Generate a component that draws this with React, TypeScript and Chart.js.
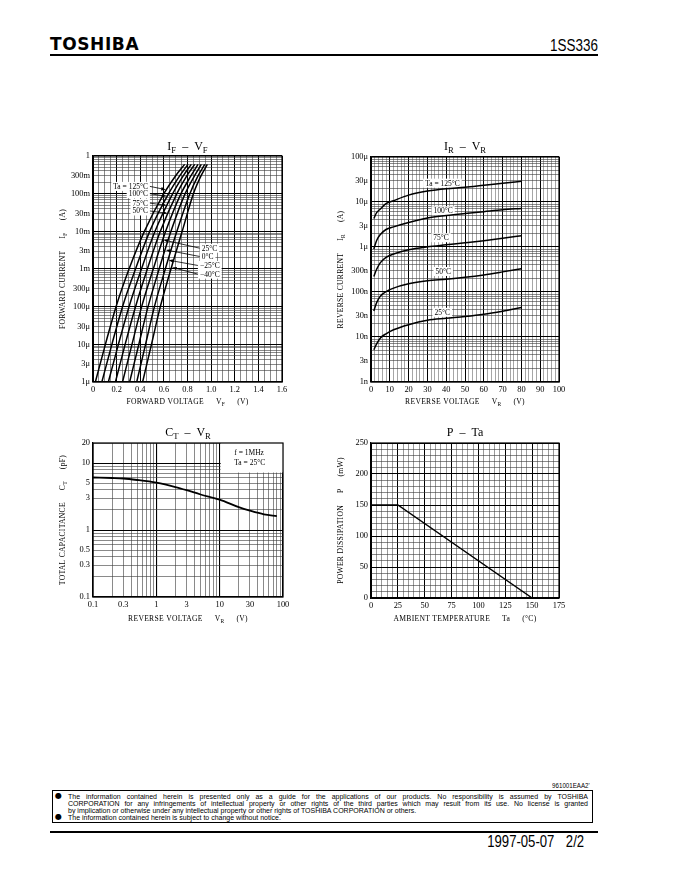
import React, { useEffect, useRef } from "react";
import { Chart, registerables } from "chart.js";

Chart.register(...registerables);

const SERIF = '"Liberation Serif", "DejaVu Serif", serif';
const SANS = '"Liberation Sans", "DejaVu Sans", sans-serif';

// ---------------- IF - VF ----------------
const ifCurrents = [1e-6, 1e-5, 1e-4, 1e-3, 1e-2, 1e-1, 3e-1, 6e-1];
const vfTa125 = [0.02, 0.105, 0.195, 0.305, 0.435, 0.6, 0.7, 0.776];
const vfTa100 = [0.075, 0.16, 0.25, 0.36, 0.48, 0.64, 0.735, 0.804];
const vfTa75 = [0.13, 0.215, 0.305, 0.41, 0.525, 0.675, 0.765, 0.832];
const vfTa50 = [0.19, 0.272, 0.36, 0.46, 0.57, 0.71, 0.795, 0.861];
const vfTa25 = [0.25, 0.33, 0.412, 0.51, 0.615, 0.745, 0.83, 0.889];
const vfTa0 = [0.31, 0.388, 0.466, 0.56, 0.66, 0.78, 0.86, 0.917];
const vfTaM25 = [0.37, 0.445, 0.52, 0.612, 0.71, 0.82, 0.89, 0.946];
const vfTaM40 = [0.42, 0.495, 0.57, 0.66, 0.755, 0.85, 0.915, 0.968];
const ifSeries = [vfTa125, vfTa100, vfTa75, vfTa50, vfTa25, vfTa0, vfTaM25, vfTaM40];
const ifLabels = ["Ta = 125°C", "100°C", "75°C", "50°C", "25°C", "0°C", "\u221225°C", "\u221240°C"];
const ifLabelV = [0.465, 0.465, 0.465, 0.465, 0.92, 0.92, 0.905, 0.905];
const ifLabelI = [0.156, 0.1, 0.056, 0.0347, 3.57e-3, 2.15e-3, 1.24e-3, 7.3e-4];
const ifArrowI = [0.128, 0.085, 0.049, 0.03, 5.9e-3, 3.2e-3, 1.71e-3, 1.1e-3];
const ifXTicks = [0, 0.2, 0.4, 0.6, 0.8, 1.0, 1.2, 1.4, 1.6];
const ifXLabels = ["0", "0.2", "0.4", "0.6", "0.8", "1.0", "1.2", "1.4", "1.6"];
const ifYTicks = [1e-6, 3e-6, 1e-5, 3e-5, 1e-4, 3e-4, 1e-3, 3e-3, 1e-2, 3e-2, 1e-1, 3e-1, 1];
const ifYLabels = ["1\u03bc", "3\u03bc", "10\u03bc", "30\u03bc", "100\u03bc", "300\u03bc", "1m", "3m", "10m", "30m", "100m", "300m", "1"];

// ---------------- IR - VR ----------------
const irV = [1.5, 3, 5, 8, 12, 20, 30, 40, 50, 60, 70, 80];
const irTa125 = [4.3e-6, 5.8e-6, 7e-6, 9.2e-6, 1.07e-5, 1.42e-5, 1.75e-5, 1.98e-5, 2.12e-5, 2.35e-5, 2.6e-5, 2.9e-5];
const irTa100 = [0.9e-6, 1.4e-6, 1.9e-6, 2.45e-6, 2.8e-6, 3.5e-6, 4.4e-6, 5e-6, 5.55e-6, 6.1e-6, 6.7e-6, 7.2e-6];
const irTa75 = [2.2e-7, 3.2e-7, 4.5e-7, 5.9e-7, 7e-7, 8.7e-7, 1.01e-6, 1.12e-6, 1.24e-6, 1.38e-6, 1.56e-6, 1.78e-6];
const irTa50 = [3.8e-8, 5.8e-8, 8.1e-8, 1.02e-7, 1.22e-7, 1.52e-7, 1.77e-7, 1.92e-7, 2.12e-7, 2.4e-7, 2.8e-7, 3.3e-7];
const irTa25 = [5.2e-9, 7e-9, 9.5e-9, 1.18e-8, 1.45e-8, 1.88e-8, 2.35e-8, 2.6e-8, 2.85e-8, 3.2e-8, 3.75e-8, 4.5e-8];
const irSeries = [irTa125, irTa100, irTa75, irTa50, irTa25];
const irLabels = ["Ta = 125°C", "100°C", "75°C", "50°C", "25°C"];
const irLabelV = [38, 38.4, 37.3, 38.4, 37.9];
const irLabelI = [2.62e-5, 6.4e-6, 1.61e-6, 2.86e-7, 3.54e-8];
const irXTicks = [0, 10, 20, 30, 40, 50, 60, 70, 80, 90, 100];
const irXLabels = ["0", "10", "20", "30", "40", "50", "60", "70", "80", "90", "100"];
const irYTicks = [1e-9, 3e-9, 1e-8, 3e-8, 1e-7, 3e-7, 1e-6, 3e-6, 1e-5, 3e-5, 1e-4];
const irYLabels = ["1n", "3n", "10n", "30n", "100n", "300n", "1\u03bc", "3\u03bc", "10\u03bc", "30\u03bc", "100\u03bc"];

// ---------------- CT - VR ----------------
const ctV = [0.1, 0.2, 0.3, 0.5, 1, 2, 3, 5, 10, 20, 30, 50, 80];
const ctC = [6.1, 6.0, 5.9, 5.6, 5.1, 4.4, 3.95, 3.4, 2.85, 2.2, 1.95, 1.72, 1.62];
const ctNote = ["f = 1MHz", "Ta = 25°C"];
const ctNoteV = 17;
const ctNoteC = [14.3, 10.1];
const ctBoxV = [10, 100];
const ctBoxC = [7, 20];
const ctXTicks = [0.1, 0.3, 1, 3, 10, 30, 100];
const ctXLabels = ["0.1", "0.3", "1", "3", "10", "30", "100"];
const ctYTicks = [0.1, 0.3, 0.5, 1, 3, 5, 10, 20];
const ctYLabels = ["0.1", "0.3", "0.5", "1", "3", "5", "10", "20"];

// ---------------- P - Ta ----------------
const paTa = [0, 25, 150];
const paP = [150, 150, 0];
const paXTicks = [0, 25, 50, 75, 100, 125, 150, 175];
const paXLabels = ["0", "25", "50", "75", "100", "125", "150", "175"];
const paYTicks = [0, 50, 100, 150, 200, 250];
const paYLabels = ["0", "50", "100", "150", "200", "250"];

// ---------------- helpers ----------------
type Seg = [string, boolean?];
interface AxisSpec {
  type: "linear" | "logarithmic";
  min: number;
  max: number;
  grid: number[];
  labelOf: (v: number) => string;
  styleOf: (v: number) => [string, number];
}
interface Spec {
  left: number; top: number; width: number; height: number;
  yW: number; xH: number; padTop: number; padRight: number;
  title: Seg[]; titleOff: number;
  xTitle: Seg[]; xTitleOff: number;
  yTitle: Seg[]; yTitleOff: number;
  x: AxisSpec; y: AxisSpec;
  datasets: any[];
  extra?: (chart: any) => void;
}

function logGrid(min: number, max: number): number[] {
  const out: number[] = [];
  for (let e = Math.floor(Math.log10(min)); e <= Math.ceil(Math.log10(max)); e++) {
    for (let m = 1; m <= 9; m++) {
      const v = +(m * Math.pow(10, e)).toPrecision(6);
      if (v >= min * 0.999 && v <= max * 1.001) out.push(v);
    }
  }
  return out;
}
function linGrid(min: number, max: number, step: number): number[] {
  const out: number[] = [];
  const n = Math.round((max - min) / step);
  for (let k = 0; k <= n; k++) out.push(+(min + k * step).toFixed(6));
  return out;
}
function labeler(vals: number[], labels: string[]) {
  return (v: number) => {
    const i = vals.findIndex((t) => Math.abs(t - v) <= Math.abs(t) * 1e-6 + 1e-12);
    return i >= 0 ? labels[i] : "";
  };
}
function isMult(v: number, step: number) {
  return Math.abs(v / step - Math.round(v / step)) < 1e-6;
}
function logStyle(v: number): [string, number] {
  const l = Math.log10(v);
  return Math.abs(l - Math.round(l)) < 1e-6 ? ["#000", 1.1] : ["#3a3a3a", 0.6];
}

function drawSegs(ctx: CanvasRenderingContext2D, segs: Seg[], cx: number, cy: number, size: number, ls: number) {
  const c: any = ctx;
  c.letterSpacing = ls + "px";
  ctx.textBaseline = "middle";
  ctx.textAlign = "left";
  const fonts = segs.map(([, sub]) => `${sub ? size * 0.72 : size}px ${SERIF}`);
  const widths = segs.map(([t], i) => {
    ctx.font = fonts[i];
    return ctx.measureText(t).width;
  });
  const total = widths.reduce((a, b) => a + b, 0);
  let x = cx - total / 2;
  segs.forEach(([t, sub], i) => {
    ctx.font = fonts[i];
    ctx.fillText(t, x, cy + (sub ? size * 0.32 : 0));
    x += widths[i];
  });
  c.letterSpacing = "0px";
}

function drawArrow(ctx: CanvasRenderingContext2D, sx: number, sy: number, tx: number, ty: number) {
  const ang = Math.atan2(ty - sy, tx - sx);
  const L = 4.5, W = 1.7;
  ctx.strokeStyle = "#000";
  ctx.lineWidth = 0.8;
  ctx.beginPath();
  ctx.moveTo(sx, sy);
  ctx.lineTo(tx - Math.cos(ang) * L * 0.8, ty - Math.sin(ang) * L * 0.8);
  ctx.stroke();
  ctx.fillStyle = "#000";
  ctx.beginPath();
  ctx.moveTo(tx, ty);
  ctx.lineTo(tx - Math.cos(ang) * L - Math.sin(ang) * W, ty - Math.sin(ang) * L + Math.cos(ang) * W);
  ctx.lineTo(tx - Math.cos(ang) * L + Math.sin(ang) * W, ty - Math.sin(ang) * L - Math.cos(ang) * W);
  ctx.closePath();
  ctx.fill();
}

function vAtCurrent(vs: number[], cur: number) {
  const L = Math.log10(cur);
  for (let j = 0; j < ifCurrents.length - 1; j++) {
    const a = Math.log10(ifCurrents[j]);
    const b = Math.log10(ifCurrents[j + 1]);
    if (L >= a && L <= b) {
      const t = (L - a) / (b - a);
      return vs[j] + t * (vs[j + 1] - vs[j]);
    }
  }
  return vs[vs.length - 1];
}

function drawIfLabels(chart: any) {
  const { ctx, scales } = chart;
  const x = scales.x, y = scales.y;
  ctx.save();
  ctx.font = `7.5px ${SERIF}`;
  ctx.textBaseline = "middle";
  ctx.textAlign = "left";
  ifLabels.forEach((t, k) => {
    const px = x.getPixelForValue(ifLabelV[k]);
    const py = y.getPixelForValue(ifLabelI[k]);
    const w = ctx.measureText(t).width;
    const rightAligned = k < 4;
    const x0 = rightAligned ? px - w : px;
    ctx.fillStyle = "#fff";
    ctx.fillRect(x0 - 2, py - 4.5, w + 4, 9);
    ctx.fillStyle = "#000";
    ctx.fillText(t, x0, py + 0.5);
  });
  ifLabels.forEach((t, k) => {
    const px = x.getPixelForValue(ifLabelV[k]);
    const py = y.getPixelForValue(ifLabelI[k]);
    const rightAligned = k < 4;
    const sx = rightAligned ? px + 2 : px - 2;
    const tv = vAtCurrent(ifSeries[k], ifArrowI[k]);
    drawArrow(ctx, sx, py, x.getPixelForValue(tv) + (rightAligned ? -0.8 : 0.8), y.getPixelForValue(ifArrowI[k]));
    void t;
  });
  ctx.restore();
}

function drawIrLabels(chart: any) {
  const { ctx, scales } = chart;
  const x = scales.x, y = scales.y;
  ctx.save();
  ctx.font = `7.5px ${SERIF}`;
  ctx.textBaseline = "middle";
  ctx.textAlign = "center";
  irLabels.forEach((t, k) => {
    const px = x.getPixelForValue(irLabelV[k]);
    const py = y.getPixelForValue(irLabelI[k]);
    const w = ctx.measureText(t).width;
    ctx.fillStyle = "#fff";
    ctx.fillRect(px - w / 2 - 2, py - 4.5, w + 4, 9);
    ctx.fillStyle = "#000";
    ctx.fillText(t, px, py + 0.5);
  });
  ctx.restore();
}

function drawCtNote(chart: any) {
  const { ctx, scales } = chart;
  const x = scales.x, y = scales.y;
  const x0 = x.getPixelForValue(ctBoxV[0]);
  const x1 = x.getPixelForValue(ctBoxV[1]);
  const y0 = y.getPixelForValue(ctBoxC[1]);
  const y1 = y.getPixelForValue(ctBoxC[0]);
  ctx.save();
  ctx.fillStyle = "#fff";
  ctx.fillRect(x0 + 1, y0, x1 - x0 - 1, y1 - y0 - 1);
  ctx.fillStyle = "#000";
  ctx.font = `7.5px ${SERIF}`;
  ctx.textBaseline = "middle";
  ctx.textAlign = "left";
  ctNote.forEach((t, k) => {
    ctx.fillText(t, x.getPixelForValue(ctNoteV), y.getPixelForValue(ctNoteC[k]));
  });
  ctx.restore();
}

function decor(s: Spec) {
  return {
    id: "decor",
    beforeDatasetsDraw(chart: any) {
      if (s.extra) s.extra(chart);
    },
    afterDatasetsDraw(chart: any) {
      const { ctx, chartArea: ca } = chart;
      ctx.save();
      ctx.strokeStyle = "#000";
      ctx.lineWidth = 1.2;
      ctx.strokeRect(ca.left, ca.top, ca.right - ca.left, ca.bottom - ca.top);
      ctx.restore();
    },
    afterDraw(chart: any) {
      const { ctx, chartArea: ca } = chart;
      ctx.save();
      ctx.fillStyle = "#000";
      const cx = (ca.left + ca.right) / 2;
      const cy = (ca.top + ca.bottom) / 2;
      drawSegs(ctx, s.title, cx, ca.top + s.titleOff, 12, 0);
      drawSegs(ctx, s.xTitle, cx, ca.bottom + s.xTitleOff, 7.6, 0.3);
      ctx.translate(ca.left + s.yTitleOff, cy);
      ctx.rotate(-Math.PI / 2);
      drawSegs(ctx, s.yTitle, 0, 0, 7.6, 0.3);
      ctx.restore();
    },
  };
}

function axisOpts(a: AxisSpec, isX: boolean, size: number) {
  return {
    type: a.type,
    min: a.min,
    max: a.max,
    afterBuildTicks: (scale: any) => {
      scale.ticks = a.grid.map((v) => ({ value: v }));
    },
    afterFit: (scale: any) => {
      if (isX) scale.height = size;
      else scale.width = size;
    },
    ticks: {
      autoSkip: false,
      maxRotation: 0,
      minRotation: 0,
      padding: 3,
      color: "#000",
      font: { family: SERIF, size: 8.4 },
      callback: (v: any) => a.labelOf(Number(v)),
    },
    grid: {
      drawTicks: false,
      tickLength: 0,
      color: (c: any) => (c.tick ? a.styleOf(c.tick.value)[0] : "#000"),
      lineWidth: (c: any) => (c.tick ? a.styleOf(c.tick.value)[1] : 1),
    },
    border: { display: true, color: "#000", width: 1.2 },
  };
}

function buildConfig(s: Spec): any {
  return {
    type: "line",
    data: {
      datasets: s.datasets.map((d) => ({
        borderColor: "#000",
        backgroundColor: "#000",
        pointRadius: 0,
        pointHoverRadius: 0,
        fill: false,
        ...d,
      })),
    },
    options: {
      responsive: false,
      animation: false,
      events: [],
      layout: { padding: { left: 0, top: s.padTop, right: s.padRight, bottom: 0 } },
      plugins: { legend: { display: false }, tooltip: { enabled: false }, title: { display: false } },
      scales: { x: axisOpts(s.x, true, s.xH), y: axisOpts(s.y, false, s.yW) },
    },
    plugins: [decor(s)],
  };
}

// ---------------- chart specs ----------------
const GAP = "\u2003\u2002";
const specIF: Spec = {
  left: 55, top: 135, width: 240, height: 280, yW: 38, xH: 33, padTop: 21, padRight: 13,
  title: [["I"], ["F", true], ["\u2002\u2013\u2002V"], ["F", true]], titleOff: -9,
  xTitle: [["FORWARD VOLTAGE" + GAP + "V"], ["F", true], [GAP + "(V)"]], xTitleOff: 20,
  yTitle: [["FORWARD CURRENT" + GAP + "I"], ["F", true], [GAP + "(A)"]], yTitleOff: -30,
  x: {
    type: "linear", min: 0, max: 1.6, grid: linGrid(0, 1.6, 0.05),
    labelOf: labeler(ifXTicks, ifXLabels),
    styleOf: (v) => (isMult(v, 0.2) ? ["#000", 1] : ["#3a3a3a", 0.6]),
  },
  y: { type: "logarithmic", min: 1e-6, max: 1, grid: logGrid(1e-6, 1), labelOf: labeler(ifYTicks, ifYLabels), styleOf: logStyle },
  datasets: ifSeries.map((s) => ({
    data: ifCurrents.map((c, i) => ({ x: s[i], y: c })),
    borderWidth: 1.5,
    cubicInterpolationMode: "monotone",
  })),
  extra: drawIfLabels,
};

const specIR: Spec = {
  left: 330, top: 135, width: 245, height: 280, yW: 41, xH: 33, padTop: 22, padRight: 16,
  title: [["I"], ["R", true], ["\u2002\u2013\u2002V"], ["R", true]], titleOff: -10,
  xTitle: [["REVERSE VOLTAGE" + GAP + "V"], ["R", true], [GAP + "(V)"]], xTitleOff: 20,
  yTitle: [["REVERSE CURRENT" + GAP + "I"], ["R", true], [GAP + "(A)"]], yTitleOff: -30,
  x: {
    type: "linear", min: 0, max: 100, grid: linGrid(0, 100, 2),
    labelOf: labeler(irXTicks, irXLabels),
    styleOf: (v) => (isMult(v, 10) ? ["#000", 1] : ["#6a6a6a", 0.6]),
  },
  y: { type: "logarithmic", min: 1e-9, max: 1e-4, grid: logGrid(1e-9, 1e-4), labelOf: labeler(irYTicks, irYLabels), styleOf: logStyle },
  datasets: irSeries.map((s) => ({
    data: irV.map((v, i) => ({ x: v, y: s[i] })),
    borderWidth: 1.5,
    cubicInterpolationMode: "monotone",
  })),
  extra: drawIrLabels,
};

const specCT: Spec = {
  left: 55, top: 420, width: 240, height: 210, yW: 38, xH: 33, padTop: 23, padRight: 12,
  title: [["C"], ["T", true], ["\u2002\u2013\u2002V"], ["R", true]], titleOff: -10,
  xTitle: [["REVERSE VOLTAGE" + GAP + "V"], ["R", true], [GAP + "(V)"]], xTitleOff: 22,
  yTitle: [["TOTAL CAPACITANCE" + GAP + "C"], ["T", true], [GAP + "(pF)"]], yTitleOff: -30,
  x: { type: "logarithmic", min: 0.1, max: 100, grid: logGrid(0.1, 100), labelOf: labeler(ctXTicks, ctXLabels), styleOf: logStyle },
  y: { type: "logarithmic", min: 0.1, max: 20, grid: logGrid(0.1, 20), labelOf: labeler(ctYTicks, ctYLabels), styleOf: logStyle },
  datasets: [
    {
      data: ctV.map((v, i) => ({ x: v, y: ctC[i] })),
      borderWidth: 1.8,
      cubicInterpolationMode: "monotone",
    },
  ],
  extra: drawCtNote,
};

const specPA: Spec = {
  left: 330, top: 420, width: 245, height: 210, yW: 41, xH: 32, padTop: 23, padRight: 16,
  title: [["P\u2002\u2013\u2002Ta"]], titleOff: -10,
  xTitle: [["AMBIENT TEMPERATURE" + GAP + "Ta" + GAP + "(\u00b0C)"]], xTitleOff: 21,
  yTitle: [["POWER DISSIPATION" + GAP + "P" + GAP + "(mW)"]], yTitleOff: -30,
  x: {
    type: "linear", min: 0, max: 175, grid: linGrid(0, 175, 5),
    labelOf: labeler(paXTicks, paXLabels),
    styleOf: (v) => (isMult(v, 25) ? ["#000", 1] : ["#555", 0.6]),
  },
  y: {
    type: "linear", min: 0, max: 250, grid: linGrid(0, 250, 10),
    labelOf: labeler(paYTicks, paYLabels),
    styleOf: (v) => (isMult(v, 50) ? ["#000", 1] : ["#3a3a3a", 0.6]),
  },
  datasets: [{ data: paTa.map((t, i) => ({ x: t, y: paP[i] })), borderWidth: 1.4 }],
};

function ChartBox({ spec }: { spec: Spec }) {
  const ref = useRef<HTMLCanvasElement>(null);
  useEffect(() => {
    const chart = new Chart(ref.current as HTMLCanvasElement, buildConfig(spec));
    return () => chart.destroy();
  }, [spec]);
  return (
    <canvas
      ref={ref}
      width={spec.width}
      height={spec.height}
      style={{ position: "absolute", left: spec.left, top: spec.top, width: spec.width, height: spec.height }}
    />
  );
}

const footerLines = [
  "The information contained herein is presented only as a guide for the applications of our products. No responsibility is assumed by TOSHIBA",
  "CORPORATION for any infringements of intellectual property or other rights of the third parties which may result from its use. No license is granted",
  "by implication or otherwise under any intellectual property or other rights of TOSHIBA CORPORATION or others.",
  "The information contained herein is subject to change without notice.",
];
const footerTops = [792.5, 799.5, 806.5, 814];
const footerJustify = [true, true, false, false];
const footerBullets = [true, false, false, true];

export default function App() {
  return (
    <div
      style={{
        position: "absolute",
        left: 0,
        top: 0,
        width: 680,
        height: 880,
        background: "#fff",
        overflow: "hidden",
        color: "#000",
      }}
    >
      <div style={{ position: "absolute", left: 50, top: 36, font: `bold 17px "DejaVu Sans", sans-serif`, lineHeight: "17px", letterSpacing: 0.6 }}>
        TOSHIBA
      </div>
      <div
        style={{
          position: "absolute",
          right: 82,
          top: 37.5,
          font: `16px ${SANS}`,
          lineHeight: "16px",
          transform: "scaleX(0.84)",
          transformOrigin: "right center",
        }}
      >
        1SS336
      </div>
      <div style={{ position: "absolute", left: 50, top: 54, width: 548, height: 2, background: "#000" }} />

      <ChartBox spec={specIF} />
      <ChartBox spec={specIR} />
      <ChartBox spec={specCT} />
      <ChartBox spec={specPA} />

      <div
        style={{
          position: "absolute",
          right: 90,
          top: 782,
          font: `7px ${SANS}`,
          lineHeight: "8px",
          transform: "scaleX(0.88)",
          transformOrigin: "right center",
        }}
      >
        961001EAA2'
      </div>
      <div
        style={{
          position: "absolute",
          left: 52,
          top: 790,
          width: 541,
          height: 33,
          border: "1.5px solid #000",
          boxSizing: "border-box",
        }}
      />
      {footerLines.map((t, i) => (
        <React.Fragment key={i}>
          {footerBullets[i] && (
            <div style={{ position: "absolute", left: 55, top: footerTops[i] - 1, font: `8px "DejaVu Sans", sans-serif`, lineHeight: "8px" }}>
              {"\u25cf"}
            </div>
          )}
          <div
            style={{
              position: "absolute",
              left: 68,
              top: footerTops[i],
              width: 520,
              font: `7px ${SANS}`,
              lineHeight: "7px",
              whiteSpace: "nowrap",
              textAlign: footerJustify[i] ? "justify" : "left",
              textAlignLast: footerJustify[i] ? "justify" : "left",
            } as any}
          >
            {t}
          </div>
        </React.Fragment>
      ))}
      <div style={{ position: "absolute", left: 50, top: 831, width: 548, height: 2, background: "#000" }} />
      <div
        style={{
          position: "absolute",
          right: 96,
          top: 834,
          font: `16px ${SANS}`,
          lineHeight: "16px",
          whiteSpace: "nowrap",
          transform: "scaleX(0.82)",
          transformOrigin: "right center",
        }}
      >
        1997-05-07<span style={{ marginLeft: 14 }}>2/2</span>
      </div>
    </div>
  );
}
